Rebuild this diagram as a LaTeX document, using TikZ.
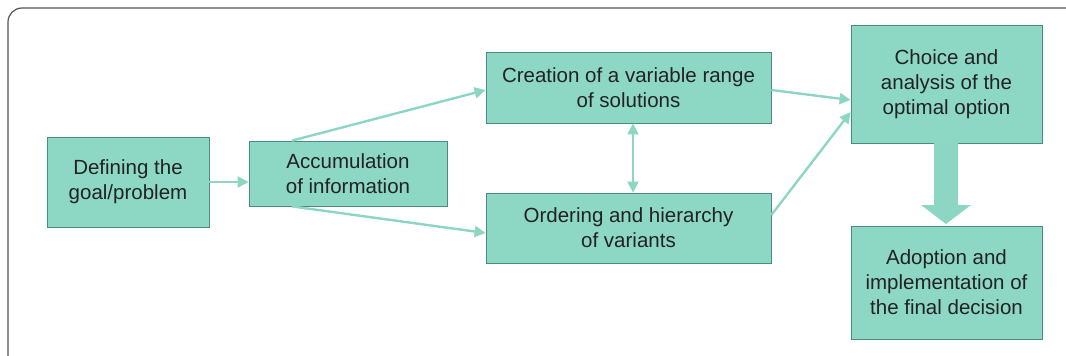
\documentclass[tikz,border=0pt]{standalone}
\usepackage{fontspec}
\setmainfont{Liberation Sans}
\usetikzlibrary{arrows.meta,shapes.arrows}
\definecolor{boxfill}{HTML}{8DD8C4}
\definecolor{boxline}{HTML}{4A8C82}
\definecolor{arr}{HTML}{8DD6C3}
\definecolor{txt}{HTML}{222222}
\definecolor{frame}{HTML}{555555}
\tikzset{
  stepbox/.style={draw=boxline, line width=0.8pt, fill=boxfill, text=txt, align=center,
    font=\fontsize{20.5}{25}\selectfont, inner sep=0pt},
  conn/.style={draw=arr, line width=2.4pt, -{Triangle[length=11pt,width=11pt]}},
  dconn/.style={draw=arr, line width=2.4pt, {Triangle[length=11pt,width=11pt]}-{Triangle[length=11pt,width=11pt]}}
}
\newcommand{\boxat}[6]{% name, x1,y1,x2,y2, text
  \node[stepbox, minimum width=#4-#2, minimum height=#5-#3] (#1) at ({(#2+#4)/2},{(#3+#5)/2}) {#6};}
\begin{document}
\begin{tikzpicture}[x=1pt,y=-1pt]
\useasboundingbox (0,0) rectangle (1066,356);
\draw[frame, line width=1.2pt, rounded corners=14pt] (8,8) rectangle (1090,380);
\boxat{b1}{47}{137}{209}{227}{Defining the\\goal/problem}
\boxat{b2}{249}{141}{447}{206}{Accumulation\\of information}
\boxat{b3}{486}{52}{771}{123}{Creation of a variable range\\of solutions}
\boxat{b4}{486}{193}{771}{263}{Ordering and hierarchy\\of variants}
\boxat{b5}{851}{25}{1042}{143}{Choice and\\analysis of the\\optimal option}
\boxat{b6}{851}{226}{1042}{339}{Adoption and\\implementation of\\the final decision}
% connectors
\draw[conn] (b1.east) -- (b1.east -| b2.west);
\draw[conn] ([xshift=-56]b2.north) -- ([yshift=-2.5]b3.west);
\draw[conn] ([xshift=-56]b2.south) -- ([yshift=-5]b4.west);
\draw[dconn] ([xshift=4.5]b3.south) -- ([xshift=4.5]b4.north);
\draw[conn] ([yshift=-2.5]b3.east) -- ([yshift=-16]b5.west);
\draw[conn] ([yshift=13]b4.east) -- ([yshift=-28]b5.west);
% block arrow
\fill[arr] (934,143) -- (958,143) -- (958,205) -- (971,205) -- (946,224) -- (921,205) -- (934,205) -- cycle;
\end{tikzpicture}
\end{document}
